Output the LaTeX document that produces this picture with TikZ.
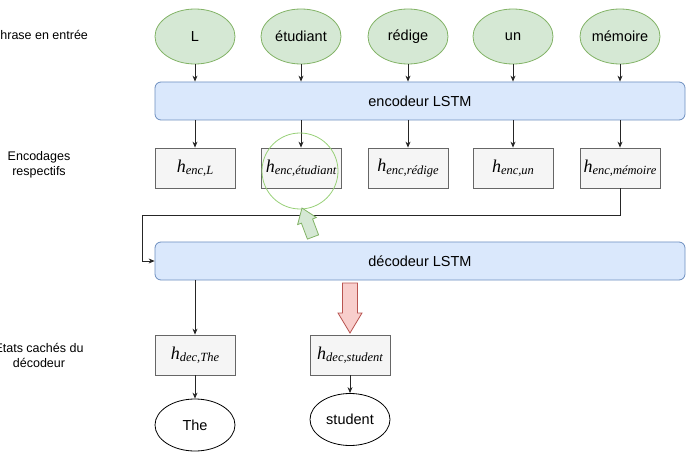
\documentclass[tikz,border=0pt]{standalone}
\usepackage{fontspec}
\setmainfont{Liberation Sans}
\newfontfamily\hserif{Liberation Serif}
\usetikzlibrary{arrows.meta,shapes.geometric}
\definecolor{gfill}{HTML}{D5E8D4}
\definecolor{gdraw}{HTML}{82B366}
\definecolor{bfill}{HTML}{DAE8FC}
\definecolor{bdraw}{HTML}{6C8EBF}
\definecolor{hfill}{HTML}{F5F5F5}
\definecolor{hdraw}{HTML}{666666}
\definecolor{rfill}{HTML}{F8CECC}
\definecolor{rdraw}{HTML}{B85450}
\definecolor{circ}{HTML}{97D077}
\newcommand{\hlab}[1]{{\hserif\itshape\fontsize{18}{18}\selectfont h\raisebox{-0.3ex}{\fontsize{12.5}{12.5}\selectfont #1}}}
\tikzset{
  word/.style={ellipse,draw=gdraw,fill=gfill,line width=0.8pt,minimum width=80pt,minimum height=55pt,inner sep=0pt,font=\fontsize{14.5}{16}\selectfont},
  outword/.style={ellipse,draw=black,fill=white,line width=0.8pt,minimum width=80pt,minimum height=52pt,inner sep=0pt,font=\fontsize{14.5}{16}\selectfont},
  lstm/.style={rectangle,rounded corners=6pt,draw=bdraw,fill=bfill,line width=0.8pt,minimum width=530pt,minimum height=38pt,inner sep=0pt,font=\fontsize{14.5}{16}\selectfont},
  hbox/.style={rectangle,draw=hdraw,fill=hfill,line width=0.8pt,minimum width=80pt,minimum height=40pt,inner sep=0pt},
  sidelab/.style={align=center,font=\fontsize{12.5}{15}\selectfont},
  arr/.style={draw=black!85,line width=0.8pt,-{Stealth[length=6pt,width=5pt]}}
}
\begin{document}
\begin{tikzpicture}[x=1pt,y=-1pt]
\useasboundingbox (0,0) rectangle (690,470);
% side labels
\node[sidelab] (l1) at (40,35) {Phrase en entrée};
\node[sidelab] (l2) at (39,165) {Encodages\\respectifs};
\node[sidelab] (l3) at (39,355) {Etats cachés du\\décodeur};
% input words
\node[word] (wL) at (195,36.5) {L};
\node[word] (wE) at (301,36.5) {étudiant};
\node[word] (wR) at (408,36.5) {rédige};
\node[word] (wU) at (513,36.5) {un};
\node[word] (wM) at (620,36.5) {mémoire};
% encoder / decoder
\node[lstm] (enc) at (420,101) {encodeur LSTM};
\node[lstm] (dec) at (420,261) {décodeur LSTM};
% encodings
\node[hbox] (hL) at (195,168) {\hlab{enc,L}};
\node[hbox] (hE) at (301,168) {\hlab{enc,étudiant}};
\node[hbox] (hR) at (408,168) {\hlab{enc,rédige}};
\node[hbox] (hU) at (513,168) {\hlab{enc,un}};
\node[hbox] (hM) at (620,168) {\hlab{enc,mémoire}};
% decoder states
\node[hbox] (dT) at (195,355) {\hlab{dec,The}};
\node[hbox] (dS) at (350,355) {\hlab{dec,student}};
% outputs
\node[outword] (oT) at (195,425) {The};
\node[outword] (oS) at (350,419.5) {student};
% arrows
\foreach \w in {L,E,R,U,M}{
  \draw[arr] (w\w.south) -- (w\w.south |- enc.north);
  \draw[arr] (h\w.north |- enc.south) -- (h\w.north);
}
\coordinate (c1) at (142,215);
\draw[arr] (hM.south) |- (c1) |- (dec.west);
\draw[arr] (dT.north |- dec.south) -- (dT.north);
\draw[arr] (dT.south) -- (oT.north);
\draw[arr] (dS.south) -- (oS.north);
% attention circle
\node[circle,draw=circ,line width=0.8pt,minimum size=76pt,inner sep=0pt] (att) at (300,171) {};
% green block arrow
\draw[draw=gdraw,fill=gfill,line width=0.8pt,line join=miter]
  (302,208) -- (316.3,217.5) -- (312.6,219.0) -- (318.6,234.9) -- (307.4,239.1) -- (301.4,223.2) -- (297.6,224.6) -- cycle;
% red block arrow
\draw[draw=rdraw,fill=rfill,line width=0.8pt]
  (342.5,283) -- (357.5,283) -- (357.5,313) -- (362,313) -- (350,333) -- (338,313) -- (342.5,313) -- cycle;
\end{tikzpicture}
\end{document}
